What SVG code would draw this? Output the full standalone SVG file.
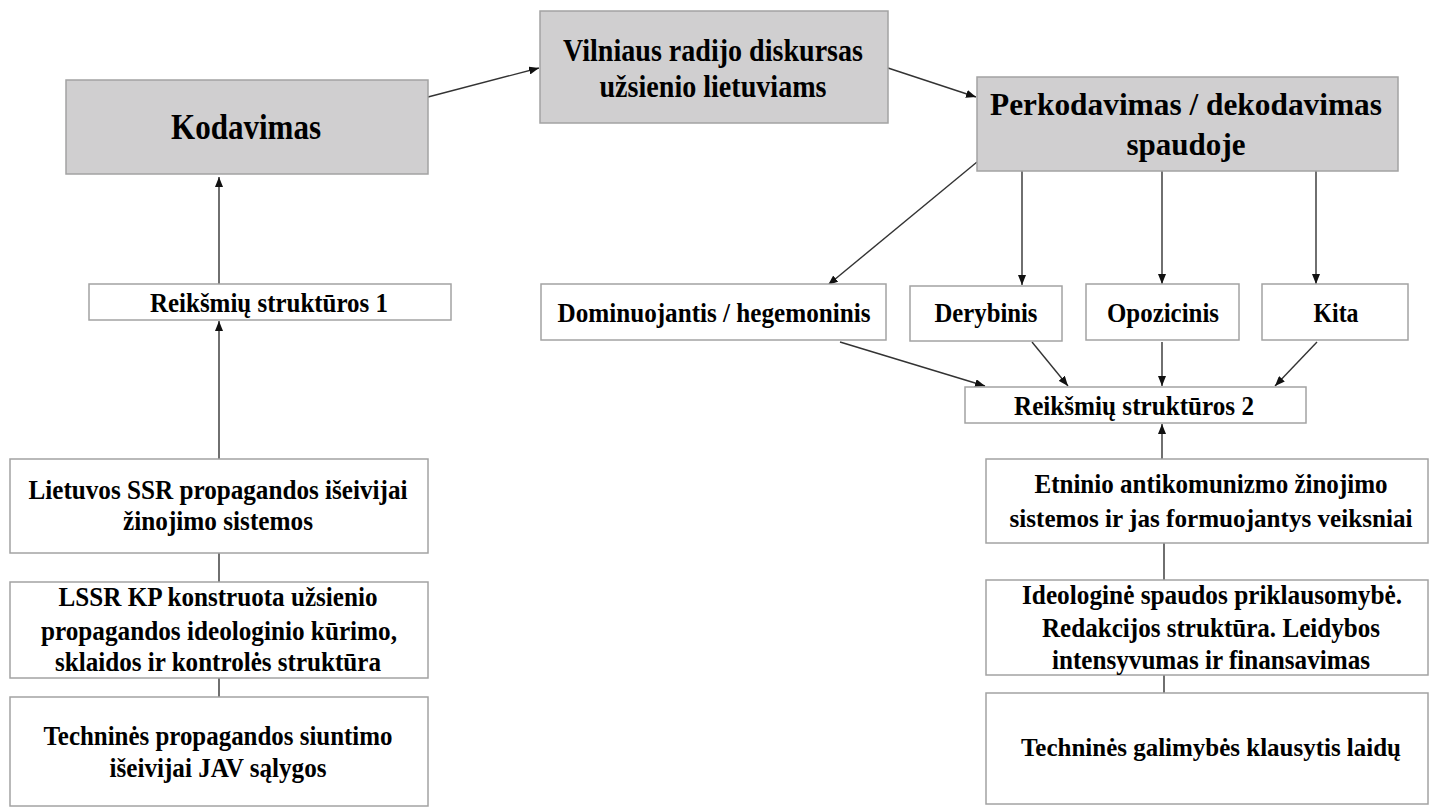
<svg xmlns="http://www.w3.org/2000/svg" width="1429" height="807" viewBox="0 0 1429 807">
<style>
.g{fill:#d0cfd0;stroke:#a3a3a3;stroke-width:1.5}
.w{fill:#ffffff;stroke:#a3a3a3;stroke-width:1.5}
text{font-family:"Liberation Serif","Times New Roman",serif;font-weight:bold;fill:#000;text-anchor:middle}
.t35{font-size:35px}.t32{font-size:32px}.t28{font-size:28px}.t27{font-size:27px}.t25{font-size:25px}
.c line{stroke:#333;stroke-width:1.4;fill:none}
.a{marker-end:url(#ah)}
</style>
<defs>
<marker id="ah" markerUnits="userSpaceOnUse" markerWidth="11" markerHeight="8" refX="10" refY="4" orient="auto">
<path d="M0,0 L10,4 L0,8 z" fill="#111"/>
</marker>
</defs>
<rect width="1429" height="807" fill="#ffffff"/>
<g class="c" id="connectors">
<line class="a" x1="428" y1="97" x2="539" y2="68"/>
<line class="a" x1="888" y1="68" x2="976" y2="97"/>
<line class="a" x1="977" y1="162" x2="828" y2="285"/>
<line class="a" x1="1022" y1="171" x2="1022" y2="285"/>
<line class="a" x1="1162" y1="171" x2="1162" y2="284"/>
<line class="a" x1="1316" y1="171" x2="1316" y2="284"/>
<line class="a" x1="840" y1="342" x2="985" y2="386"/>
<line class="a" x1="1032" y1="342" x2="1068" y2="386"/>
<line class="a" x1="1162" y1="342" x2="1162" y2="386"/>
<line class="a" x1="1317" y1="342" x2="1275" y2="386"/>
<line class="a" x1="1162" y1="459" x2="1162" y2="424"/>
<line x1="1164" y1="543" x2="1164" y2="580"/>
<line x1="1164" y1="675" x2="1164" y2="693"/>
<line class="a" x1="219" y1="284" x2="219" y2="177"/>
<line class="a" x1="219" y1="459" x2="219" y2="321"/>
<line x1="219" y1="553" x2="219" y2="582"/>
<line x1="219" y1="678" x2="219" y2="697"/>
</g>
<g id="kodavimas">
<rect class="g" x="66" y="80" width="362" height="94"/>
<text class="t35" x="246" y="139" textLength="150" lengthAdjust="spacingAndGlyphs">Kodavimas</text>
</g>
<g id="vilniaus">
<rect class="g" x="540" y="11" width="348" height="112"/>
<text class="t32" x="713" y="61" textLength="300" lengthAdjust="spacingAndGlyphs">Vilniaus radijo diskursas</text>
<text class="t32" x="713" y="97" textLength="227" lengthAdjust="spacingAndGlyphs">užsienio lietuviams</text>
</g>
<g id="perkodavimas">
<rect class="g" x="977" y="77" width="421" height="94"/>
<text class="t32" x="1186" y="115" textLength="392" lengthAdjust="spacingAndGlyphs">Perkodavimas / dekodavimas</text>
<text class="t32" x="1186" y="155" textLength="119" lengthAdjust="spacingAndGlyphs">spaudoje</text>
</g>
<g id="reiksmiu1">
<rect class="w" x="89" y="284" width="362" height="36"/>
<text class="t28" x="269" y="312" textLength="238" lengthAdjust="spacingAndGlyphs">Reikšmių struktūros 1</text>
</g>
<g id="dominuojantis">
<rect class="w" x="541" y="284" width="345" height="56"/>
<text class="t28" x="714" y="322" textLength="313" lengthAdjust="spacingAndGlyphs">Dominuojantis / hegemoninis</text>
</g>
<g id="derybinis">
<rect class="w" x="910" y="286" width="152" height="55"/>
<text class="t28" x="986" y="322" textLength="103" lengthAdjust="spacingAndGlyphs">Derybinis</text>
</g>
<g id="opozicinis">
<rect class="w" x="1086" y="284" width="153" height="56"/>
<text class="t28" x="1163" y="322" textLength="112" lengthAdjust="spacingAndGlyphs">Opozicinis</text>
</g>
<g id="kita">
<rect class="w" x="1262" y="284" width="146" height="56"/>
<text class="t28" x="1336" y="322" textLength="45" lengthAdjust="spacingAndGlyphs">Kita</text>
</g>
<g id="reiksmiu2">
<rect class="w" x="965" y="387" width="341" height="36"/>
<text class="t28" x="1134" y="415" textLength="240" lengthAdjust="spacingAndGlyphs">Reikšmių struktūros 2</text>
</g>
<g id="lietuvos">
<rect class="w" x="10" y="459" width="418" height="94"/>
<text class="t27" x="218" y="499" textLength="379" lengthAdjust="spacingAndGlyphs">Lietuvos SSR propagandos išeivijai</text>
<text class="t27" x="218" y="530" textLength="190" lengthAdjust="spacingAndGlyphs">žinojimo sistemos</text>
</g>
<g id="lssr">
<rect class="w" x="10" y="582" width="418" height="96"/>
<text class="t27" x="218" y="606" textLength="319" lengthAdjust="spacingAndGlyphs">LSSR KP konstruota užsienio</text>
<text class="t27" x="219" y="640" textLength="356" lengthAdjust="spacingAndGlyphs">propagandos ideologinio kūrimo,</text>
<text class="t27" x="218" y="671" textLength="326" lengthAdjust="spacingAndGlyphs">sklaidos ir kontrolės struktūra</text>
</g>
<g id="technines1">
<rect class="w" x="10" y="697" width="418" height="109"/>
<text class="t27" x="218" y="745" textLength="349" lengthAdjust="spacingAndGlyphs">Techninės propagandos siuntimo</text>
<text class="t27" x="218" y="777" textLength="217" lengthAdjust="spacingAndGlyphs">išeivijai JAV sąlygos</text>
</g>
<g id="etninio">
<rect class="w" x="986" y="459" width="442" height="84"/>
<text class="t27" x="1211" y="493" textLength="353" lengthAdjust="spacingAndGlyphs">Etninio antikomunizmo žinojimo</text>
<text class="t25" x="1211" y="527" textLength="403" lengthAdjust="spacingAndGlyphs">sistemos ir jas formuojantys veiksniai</text>
</g>
<g id="ideologine">
<rect class="w" x="986" y="580" width="442" height="95"/>
<text class="t27" x="1212" y="604" textLength="380" lengthAdjust="spacingAndGlyphs">Ideologinė spaudos priklausomybė.</text>
<text class="t27" x="1211" y="637" textLength="338" lengthAdjust="spacingAndGlyphs">Redakcijos struktūra. Leidybos</text>
<text class="t27" x="1211" y="669" textLength="318" lengthAdjust="spacingAndGlyphs">intensyvumas ir finansavimas</text>
</g>
<g id="technines2">
<rect class="w" x="986" y="693" width="442" height="111"/>
<text class="t25" x="1211" y="756" textLength="380" lengthAdjust="spacingAndGlyphs">Techninės galimybės klausytis laidų</text>
</g>
</svg>
